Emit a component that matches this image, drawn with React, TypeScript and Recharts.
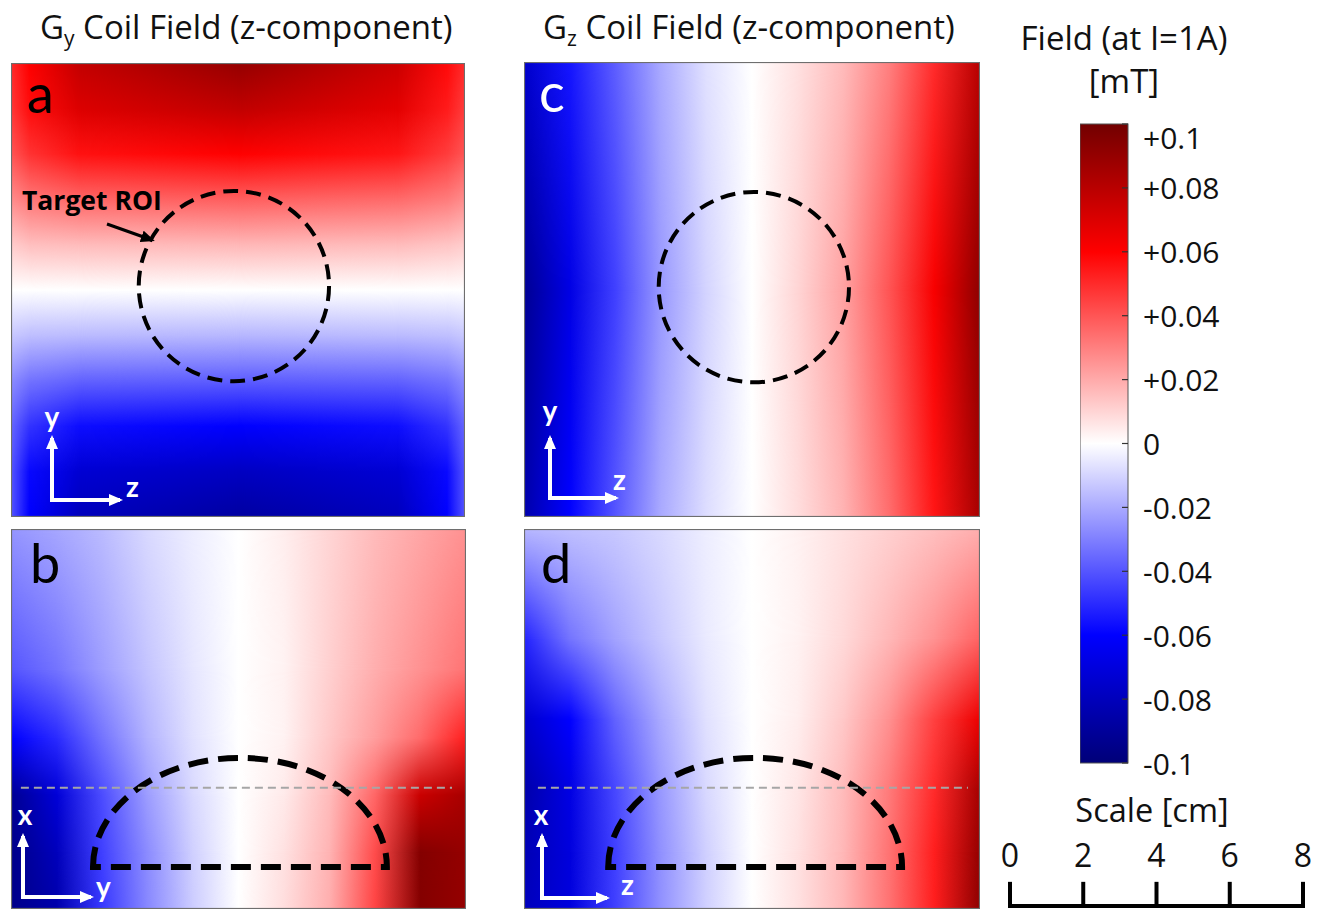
import React from 'react';
import { ComposedChart, XAxis, YAxis, ReferenceArea, ReferenceLine } from 'recharts';

const FONT = '"Open Sans", Lato, "DejaVu Sans", sans-serif';
const FONT_LETTER = 'Lato, "Open Sans", sans-serif';

// ---------- colour map (field value in mT -> colour) ----------
const cmapValues = [-0.1, -0.06, 0, 0.06, 0.1];
const cmapColors = ['#000078', '#0000ff', '#ffffff', '#ff0000', '#720000'];

const colorbarTicks = [0.1, 0.08, 0.06, 0.04, 0.02, 0, -0.02, -0.04, -0.06, -0.08, -0.1];
const scaleTicks = [0, 2, 4, 6, 8];

// ---------- panel a : Gy field, profiles along y (top -> bottom, 11 samples) at several z positions ----------
const aCrossPos = [0, 0.04, 0.15, 0.5, 0.85, 0.96, 1];
const aEdgeLeft = [0.05, 0.047, 0.04, 0.027, 0.012, 0, -0.013, -0.027, -0.036, -0.04, -0.04];
const aNearLeft = [0.06, 0.057, 0.048, 0.032, 0.015, 0, -0.015, -0.033, -0.048, -0.058, -0.06];
const aInnerLeft = [0.077, 0.07, 0.056, 0.036, 0.016, 0, -0.016, -0.037, -0.057, -0.073, -0.08];
const aCenter = [0.09, 0.078, 0.06, 0.038, 0.017, 0, -0.017, -0.038, -0.06, -0.078, -0.088];
const aInnerRight = [0.075, 0.068, 0.055, 0.035, 0.016, 0, -0.016, -0.037, -0.057, -0.073, -0.08];
const aNearRight = [0.058, 0.054, 0.046, 0.031, 0.014, 0, -0.015, -0.033, -0.048, -0.058, -0.06];
const aEdgeRight = [0.05, 0.046, 0.04, 0.027, 0.012, 0, -0.013, -0.027, -0.036, -0.04, -0.04];

// ---------- panel c : Gz field, profiles along z (left -> right) at several y positions ----------
const cCrossPos = [0, 0.5, 1];
const cTop = [-0.075, -0.055, -0.038, -0.02, -0.007, 0, 0.007, 0.016, 0.03, 0.05, 0.08];
const cMiddle = [-0.092, -0.068, -0.045, -0.024, -0.01, 0, 0.01, 0.022, 0.04, 0.062, 0.092];
const cBottom = [-0.085, -0.06, -0.04, -0.02, -0.008, 0, 0.008, 0.018, 0.034, 0.055, 0.085];

// ---------- panel b : Gy field, profiles along y (left -> right) at several x positions ----------
const bCrossPos = [0, 0.37, 0.55, 0.7, 0.85, 1];
const bRow0 = [-0.025, -0.021, -0.016, -0.009, -0.004, 0, 0.004, 0.01, 0.016, 0.021, 0.026];
const bRow1 = [-0.04, -0.033, -0.023, -0.014, -0.006, 0, 0.003, 0.011, 0.019, 0.026, 0.033];
const bRow2 = [-0.06, -0.05, -0.033, -0.018, -0.007, 0, 0.003, 0.013, 0.023, 0.035, 0.053];
const bRow3 = [-0.092, -0.072, -0.042, -0.023, -0.009, 0, 0.005, 0.016, 0.036, 0.075, 0.085];
const bRow4 = [-0.095, -0.08, -0.045, -0.027, -0.011, 0, 0.007, 0.018, 0.042, 0.095, 0.09];
const bRow5 = [-0.095, -0.085, -0.047, -0.028, -0.012, 0, 0.008, 0.019, 0.044, 0.095, 0.09];

// ---------- panel d : Gz field, profiles along z (left -> right) at several x positions ----------
const dCrossPos = [0, 0.29, 0.5, 0.68, 0.85, 1];
const dRow0 = [-0.017, -0.015, -0.013, -0.009, -0.004, 0, 0.003, 0.007, 0.011, 0.015, 0.019];
const dRow1 = [-0.052, -0.033, -0.022, -0.013, -0.005, 0, 0.003, 0.009, 0.017, 0.026, 0.037];
const dRow2 = [-0.075, -0.06, -0.037, -0.02, -0.007, 0, 0.004, 0.013, 0.026, 0.045, 0.065];
const dRow3 = [-0.085, -0.068, -0.043, -0.024, -0.009, 0, 0.006, 0.016, 0.031, 0.05, 0.085];
const dRow4 = [-0.082, -0.07, -0.045, -0.026, -0.011, 0, 0.007, 0.017, 0.033, 0.053, 0.09];
const dRow5 = [-0.08, -0.07, -0.045, -0.026, -0.011, 0, 0.007, 0.017, 0.033, 0.053, 0.092];

// ---------- geometry (cm) ----------
const PX_PER_CM = 36.6;
const roiA = { x1: 3.49, x2: 8.69, y1: 3.71, y2: 8.91 };
const roiC = { x1: 3.68, x2: 8.88, y1: 3.68, y2: 8.88 };
const domeB = { x1: 2.24, x2: 10.27, y1: 1.15, y2: 4.13 };
const domeD = { x1: 2.3, x2: 10.33, y1: 1.15, y2: 4.13 };
const sliceB = { x1: 0.27, x2: 12.05, y: 3.31 };
const sliceD = { x1: 0.38, x2: 12.13, y: 3.31 };
const RULER_TICK_CM = 0.66;

// ---------- helpers ----------
function hexToRgb(h: string) {
  const n = parseInt(h.slice(1), 16);
  return [(n >> 16) & 255, (n >> 8) & 255, n & 255];
}
function colorAt(v: number): string {
  const lo = cmapValues[0];
  const hi = cmapValues[cmapValues.length - 1];
  const c = Math.max(lo, Math.min(hi, v));
  for (let i = 0; i < cmapValues.length - 1; i++) {
    if (c <= cmapValues[i + 1]) {
      const t = (c - cmapValues[i]) / (cmapValues[i + 1] - cmapValues[i]);
      const a = hexToRgb(cmapColors[i]);
      const b = hexToRgb(cmapColors[i + 1]);
      const m = a.map((av, k) => Math.round(av + (b[k] - av) * t));
      return `rgb(${m[0]},${m[1]},${m[2]})`;
    }
  }
  return cmapColors[cmapColors.length - 1];
}

type HeatSpec = { id: string; mainAxis: 'x' | 'y'; crossPos: number[]; profiles: number[][] };

const makeHeatShape = (spec: HeatSpec) => (p: any) => {
  const { x, y, width, height } = p;
  const { id, mainAxis, crossPos, profiles } = spec;
  const gradDir = mainAxis === 'x' ? { x1: 0, y1: 0, x2: 1, y2: 0 } : { x1: 0, y1: 0, x2: 0, y2: 1 };
  const maskDir = mainAxis === 'x' ? { x1: 0, y1: 0, x2: 0, y2: 1 } : { x1: 0, y1: 0, x2: 1, y2: 0 };
  return (
    <g>
      <defs>
        {profiles.map((prof, i) => (
          <linearGradient key={'g' + i} id={`${id}-g${i}`} {...gradDir}>
            {prof.map((v, k) => (
              <stop key={k} offset={k / (prof.length - 1)} stopColor={colorAt(v)} />
            ))}
          </linearGradient>
        ))}
        {profiles.map((prof, i) =>
          i === 0 ? null : (
            <React.Fragment key={'m' + i}>
              <linearGradient id={`${id}-mg${i}`} {...maskDir}>
                <stop offset={crossPos[i - 1]} stopColor="#fff" stopOpacity={0} />
                <stop offset={crossPos[i]} stopColor="#fff" stopOpacity={1} />
              </linearGradient>
              <mask id={`${id}-m${i}`} maskUnits="userSpaceOnUse" x={x} y={y} width={width} height={height}>
                <rect x={x} y={y} width={width} height={height} fill={`url(#${id}-mg${i})`} />
              </mask>
            </React.Fragment>
          )
        )}
      </defs>
      {profiles.map((prof, i) => (
        <rect
          key={i}
          x={x}
          y={y}
          width={width}
          height={height}
          fill={`url(#${id}-g${i})`}
          mask={i ? `url(#${id}-m${i})` : undefined}
        />
      ))}
      <rect x={x + 0.5} y={y + 0.5} width={width - 1} height={height - 1} fill="none" stroke="#6e6e6e" strokeWidth={1.2} />
    </g>
  );
};

const RoiEllipse = (p: any) => (
  <ellipse
    cx={p.x + p.width / 2}
    cy={p.y + p.height / 2}
    rx={p.width / 2}
    ry={p.height / 2}
    fill="none"
    stroke="#000"
    strokeWidth={4}
    strokeDasharray="15 8"
  />
);

const RoiDome = (p: any) => (
  <path
    d={`M${p.x},${p.y + p.height} A${p.width / 2},${p.height} 0 0 1 ${p.x + p.width},${p.y + p.height} Z`}
    fill="none"
    stroke="#000"
    strokeWidth={6}
    strokeDasharray="20 10"
  />
);

const specA: HeatSpec = {
  id: 'pa',
  mainAxis: 'y',
  crossPos: aCrossPos,
  profiles: [aEdgeLeft, aNearLeft, aInnerLeft, aCenter, aInnerRight, aNearRight, aEdgeRight],
};
const specC: HeatSpec = { id: 'pc', mainAxis: 'x', crossPos: cCrossPos, profiles: [cTop, cMiddle, cBottom] };
const specB: HeatSpec = { id: 'pb', mainAxis: 'x', crossPos: bCrossPos, profiles: [bRow0, bRow1, bRow2, bRow3, bRow4, bRow5] };
const specD: HeatSpec = { id: 'pd', mainAxis: 'x', crossPos: dCrossPos, profiles: [dRow0, dRow1, dRow2, dRow3, dRow4, dRow5] };

type PanelProps = {
  left: number;
  top: number;
  width: number;
  height: number;
  spec: HeatSpec;
  roi?: { x1: number; x2: number; y1: number; y2: number };
  dome?: { x1: number; x2: number; y1: number; y2: number };
  slice?: { x1: number; x2: number; y: number };
};

const FieldPanel = ({ left, top, width, height, spec, roi, dome, slice }: PanelProps) => {
  const wCm = width / PX_PER_CM;
  const hCm = height / PX_PER_CM;
  return (
    <div style={{ position: 'absolute', left, top, width, height }}>
      <ComposedChart width={width} height={height} margin={{ top: 0, right: 0, bottom: 0, left: 0 }}>
        <XAxis type="number" dataKey="x" domain={[0, wCm]} hide allowDataOverflow />
        <YAxis type="number" dataKey="y" domain={[0, hCm]} hide allowDataOverflow />
        <ReferenceArea x1={0} x2={wCm} y1={0} y2={hCm} shape={makeHeatShape(spec)} ifOverflow="visible" />
        {slice && (
          <ReferenceLine
            segment={[
              { x: slice.x1, y: slice.y },
              { x: slice.x2, y: slice.y },
            ]}
            stroke="#a6a6a6"
            strokeWidth={2}
            strokeDasharray="8 5"
            ifOverflow="visible"
          />
        )}
        {roi && <ReferenceArea x1={roi.x1} x2={roi.x2} y1={roi.y1} y2={roi.y2} shape={RoiEllipse} ifOverflow="visible" />}
        {dome && <ReferenceArea x1={dome.x1} x2={dome.x2} y1={dome.y1} y2={dome.y2} shape={RoiDome} ifOverflow="visible" />}
      </ComposedChart>
    </div>
  );
};

// ---------- colour bar ----------
const CB_W = 48;
const CB_CHART_W = 200;
const CB_TICK_FRAC = 6 / CB_W;

const ColorbarShape = (p: any) => (
  <g>
    <defs>
      <linearGradient id="cbGrad" x1={0} y1={0} x2={0} y2={1}>
        {cmapValues
          .slice()
          .reverse()
          .map((v, i) => (
            <stop
              key={i}
              offset={(cmapValues[cmapValues.length - 1] - v) / (cmapValues[cmapValues.length - 1] - cmapValues[0])}
              stopColor={colorAt(v)}
            />
          ))}
      </linearGradient>
    </defs>
    <rect x={p.x} y={p.y} width={p.width} height={p.height} fill="url(#cbGrad)" stroke="#555" strokeWidth={1} />
  </g>
);

const fmtTick = (v: number) => (v > 0 ? '+' + v : String(v));

const cbLabel = (v: number) => (lp: any) => {
  const vb = lp.viewBox || {};
  const dy = v === 0.1 ? 13 : 0;
  return (
    <text
      x={vb.x + vb.width + 15}
      y={vb.y + dy}
      dominantBaseline="central"
      fontSize={30}
      fontFamily={FONT}
      fill="#111"
    >
      {fmtTick(v)}
    </text>
  );
};

const scaleLabel = (v: number) => (lp: any) => {
  const vb = lp.viewBox || {};
  return (
    <text x={vb.x} y={vb.y - 15} textAnchor="middle" fontSize={32} fontFamily={FONT} fill="#111">
      {v}
    </text>
  );
};

const WhiteArrow = ({ x1, y1, x2, y2 }: { x1: number; y1: number; x2: number; y2: number }) => (
  <line x1={x1} y1={y1} x2={x2} y2={y2} stroke="#fff" strokeWidth={4} markerEnd="url(#whiteHead)" />
);

const axisLbl = { fill: '#fff', fontFamily: FONT_LETTER, fontWeight: 700, fontSize: 28 } as const;

export default function App() {
  return (
    <div style={{ position: 'absolute', left: 0, top: 0, width: 1326, height: 910, background: '#fff', overflow: 'hidden' }}>
      <FieldPanel left={11} top={63} width={454} height={454} spec={specA} roi={roiA} />
      <FieldPanel left={524} top={62} width={456} height={455} spec={specC} roi={roiC} />
      <FieldPanel left={11} top={529} width={455} height={380} spec={specB} dome={domeB} slice={sliceB} />
      <FieldPanel left={524} top={529} width={456} height={380} spec={specD} dome={domeD} slice={sliceD} />

      <div style={{ position: 'absolute', left: 1080, top: 114, width: CB_CHART_W, height: 670 }}>
        <ComposedChart width={CB_CHART_W} height={670} margin={{ top: 10, right: 0, bottom: 21, left: 0 }}>
          <XAxis type="number" dataKey="x" domain={[0, CB_CHART_W / CB_W]} hide allowDataOverflow />
          <YAxis type="number" dataKey="v" domain={[-0.1, 0.1]} hide allowDataOverflow />
          <ReferenceArea x1={0} x2={1} y1={-0.1} y2={0.1} shape={ColorbarShape} ifOverflow="visible" />
          {colorbarTicks.map((v) => (
            <ReferenceLine
              key={v}
              segment={[
                { x: 1 - CB_TICK_FRAC, y: v },
                { x: 1, y: v },
              ]}
              stroke="#333"
              strokeWidth={1.2}
              ifOverflow="visible"
              label={{ content: cbLabel(v) }}
            />
          ))}
        </ComposedChart>
      </div>

      <div style={{ position: 'absolute', left: 996, top: 830, width: 330, height: 80 }}>
        <ComposedChart width={330} height={80} margin={{ top: 0, right: 23, bottom: 4, left: 14 }}>
          <XAxis type="number" dataKey="cm" domain={[0, 8]} hide allowDataOverflow />
          <YAxis type="number" dataKey="h" domain={[0, 76 / PX_PER_CM]} hide allowDataOverflow />
          <ReferenceLine
            segment={[
              { x: 0, y: 0 },
              { x: 8, y: 0 },
            ]}
            stroke="#000"
            strokeWidth={4}
            strokeLinecap="square"
            ifOverflow="visible"
          />
          {scaleTicks.map((v) => (
            <ReferenceLine
              key={v}
              segment={[
                { x: v, y: 0 },
                { x: v, y: RULER_TICK_CM },
              ]}
              stroke="#000"
              strokeWidth={4}
              ifOverflow="visible"
              label={{ content: scaleLabel(v) }}
            />
          ))}
        </ComposedChart>
      </div>

      <svg
        width={1326}
        height={910}
        style={{ position: 'absolute', left: 0, top: 0, pointerEvents: 'none' }}
        fontFamily={FONT}
      >
        <defs>
          <marker id="whiteHead" viewBox="0 0 14 12" refX={11} refY={6} markerWidth={14} markerHeight={12} markerUnits="userSpaceOnUse" orient="auto">
            <path d="M0,0 L14,6 L0,12 z" fill="#fff" />
          </marker>
          <marker id="blackHead" viewBox="0 0 14 12" refX={11} refY={6} markerWidth={14} markerHeight={12} markerUnits="userSpaceOnUse" orient="auto">
            <path d="M0,0 L14,6 L0,12 z" fill="#000" />
          </marker>
        </defs>

        <text x={40} y={39} fontSize={33} fill="#111">
          G<tspan fontSize={21} dy={7}>y</tspan>
          <tspan dy={-7}> Coil Field (z-component)</tspan>
        </text>
        <text x={543} y={39} fontSize={33} fill="#111">
          G<tspan fontSize={21} dy={7}>z</tspan>
          <tspan dy={-7}> Coil Field (z-component)</tspan>
        </text>

        <text x={1124} y={50} fontSize={33} textAnchor="middle" fill="#111">Field (at I=1A)</text>
        <text x={1124} y={93} fontSize={33} textAnchor="middle" fill="#111">[mT]</text>
        <text x={1152} y={822} fontSize={32.5} textAnchor="middle" fill="#111">Scale [cm]</text>

        <text x={27} y={113} fontSize={54} fontFamily={FONT_LETTER} fill="#000">a</text>
        <text x={539} y={112} fontSize={54} fontFamily={FONT_LETTER} fill="#fff">c</text>
        <text x={30} y={583} fontSize={54} fontFamily={FONT_LETTER} fill="#000">b</text>
        <text x={541} y={583} fontSize={54} fontFamily={FONT_LETTER} fill="#000">d</text>

        <text x={22} y={210} fontSize={26.5} fontWeight={700} fill="#000">Target ROI</text>
        <line x1={107} y1={224} x2={152} y2={240} stroke="#000" strokeWidth={3} markerEnd="url(#blackHead)" />

        <WhiteArrow x1={52} y1={502} x2={52} y2={438} />
        <WhiteArrow x1={50} y1={500} x2={120} y2={500} />
        <text x={52} y={427} textAnchor="middle" {...axisLbl}>y</text>
        <text x={126} y={497} {...axisLbl}>z</text>

        <WhiteArrow x1={550} y1={500} x2={550} y2={438} />
        <WhiteArrow x1={548} y1={498} x2={616} y2={498} />
        <text x={550} y={421} textAnchor="middle" {...axisLbl}>y</text>
        <text x={613} y={490} {...axisLbl}>z</text>

        <WhiteArrow x1={23} y1={899} x2={23} y2={836} />
        <WhiteArrow x1={21} y1={897} x2={91} y2={897} />
        <text x={25} y={825} textAnchor="middle" {...axisLbl}>x</text>
        <text x={96} y={897} {...axisLbl}>y</text>

        <WhiteArrow x1={542} y1={900} x2={542} y2={836} />
        <WhiteArrow x1={540} y1={898} x2={607} y2={898} />
        <text x={541} y={825} textAnchor="middle" {...axisLbl}>x</text>
        <text x={621} y={895} {...axisLbl}>z</text>
      </svg>
    </div>
  );
}
